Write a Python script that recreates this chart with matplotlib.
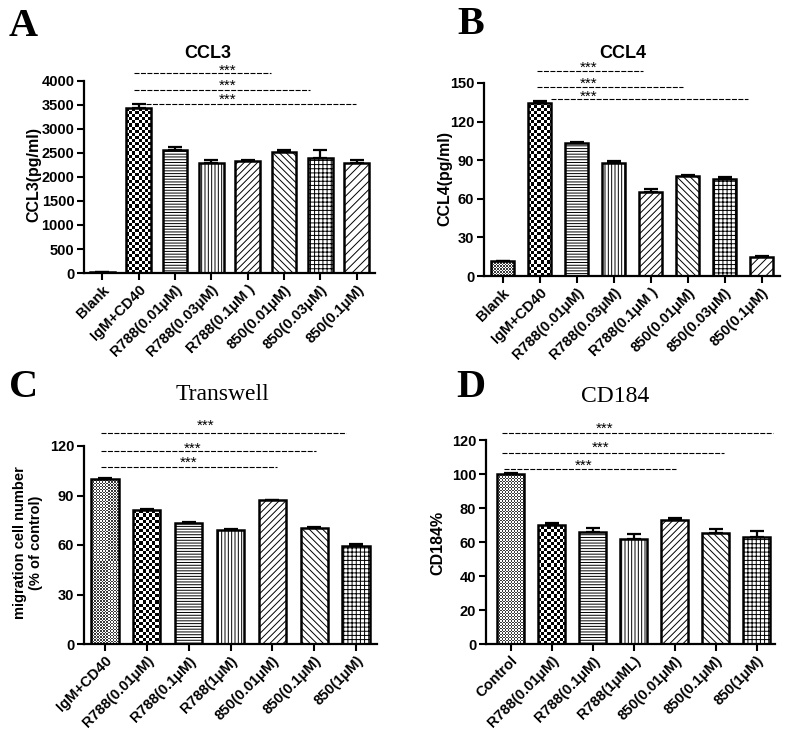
import matplotlib
matplotlib.use('Agg')
import matplotlib.pyplot as plt
import matplotlib.transforms as mtransforms
from matplotlib.colors import ListedColormap
import numpy as np

plt.rcParams['font.family'] = ['Liberation Sans', 'DejaVu Sans']
plt.rcParams['hatch.linewidth'] = 0.7

# ── data ──
a_labels = ['Blank', 'IgM+CD40', 'R788(0.01μM)', 'R788(0.03μM)', 'R788(0.1μM )',
            '850(0.01μM)', '850(0.03μM)', '850(0.1μM)']
a_vals = [20, 3440, 2560, 2300, 2340, 2530, 2400, 2300]
a_err = [10, 80, 60, 50, 20, 40, 160, 60]

b_labels = ['Blank', 'IgM+CD40', 'R788(0.01μM)', 'R788(0.03μM)', 'R788(0.1μM )',
            '850(0.01μM)', '850(0.03μM)', '850(0.1μM)']
b_vals = [11.5, 134.5, 103, 87.5, 65.5, 78, 75.5, 15]
b_err = [0.5, 1.5, 1.2, 1.5, 1.8, 0.3, 1.2, 0.5]

c_labels = ['IgM+CD40', 'R788(0.01μM)', 'R788(0.1μM)', 'R788(1μM)',
            '850(0.01μM)', '850(0.1μM)', '850(1μM)']
c_vals = [100, 81, 73.5, 69, 87, 70.5, 59.5]
c_err = [0.4, 0.6, 0.5, 0.6, 0.5, 0.3, 0.9]

d_labels = ['Control', 'R788(0.01μM)', 'R788(0.1μM)', 'R788(1μML)',
            '850(0.01μM)', '850(0.1μM)', '850(1μM)']
d_vals = [100, 70, 66, 62, 73, 65.5, 63]
d_err = [0.6, 1.2, 2.0, 3.0, 1.3, 2.0, 3.5]

# significance brackets: start x, end x, y   /  star x, star y (glyph centre)
a_sig = dict(x0=[0.88, 0.88, 1.2], x1=[4.65, 5.7, 6.97], y=[4166, 3812, 3520],
             sx=[3.44, 3.44, 3.44], sy=[4260, 3960, 3650])
b_sig = dict(x0=[0.94, 0.94, 1.3], x1=[3.8, 4.88, 6.63], y=[159, 147, 137.5],
             sx=[2.32, 2.32, 2.32], sy=[163.5, 151.5, 141.5])
c_sig = dict(x0=[-0.1, -0.1, -0.1], x1=[5.76, 5.05, 4.1], y=[128, 117, 107.3],
             sx=[2.4, 2.1, 2.0], sy=[134, 120, 111.5])
d_sig = dict(x0=[-0.2, -0.2, -0.15], x1=[6.4, 5.2, 4.03], y=[124, 112.4, 103],
             sx=[2.3, 2.2, 1.77], sy=[128, 117, 106.5])

# fill styles: 'dots' fine stipple, 'chk' checkerboard, else hatch string
ab_fill = ['dots', 'chk', '------', '|||||', '/////', '\\\\\\\\\\', '++++', '////']
cd_fill = ['dots', 'chk', '------', '|||||', '/////', '\\\\\\\\\\', '++++']


def pattern_fill(ax, bar, cell, dark):
    bb = ax.get_window_extent()
    x0, x1 = ax.get_xlim()
    y0, y1 = ax.get_ylim()
    ppx = bb.width / (x1 - x0)
    ppy = bb.height / (y1 - y0)
    xl, w, h = bar.get_x(), bar.get_width(), bar.get_height()
    nx = max(1, int(np.ceil(w * ppx / cell)))
    ny = max(1, int(np.ceil(h * ppy / cell)))
    pat = np.add.outer(np.arange(ny), np.arange(nx)) % 2
    im = ax.imshow(pat, extent=[xl, xl + nx * cell / ppx, 0, ny * cell / ppy],
                   cmap=ListedColormap([dark, 'white']), vmin=0, vmax=1,
                   interpolation='nearest', aspect='auto', origin='lower', zorder=1.5)
    im.set_clip_path(bar)


def panel(pos, labels, vals, errs, fills, yticks, xlim, width, sig):
    ax = fig.add_axes(pos)
    x = np.arange(len(vals))
    ax.set_xlim(*xlim)
    ax.set_ylim(yticks[0], yticks[-1])
    bars = ax.bar(x, vals, width=width, color='white', edgecolor='black',
                  linewidth=1.8, zorder=2)
    for b, f in zip(bars, fills):
        if f == 'chk':
            b.set_facecolor('none')
            b.set_zorder(3)
            pattern_fill(ax, b, 3.1, 'black')
        elif f == 'dots':
            b.set_facecolor('none')
            b.set_zorder(3)
            pattern_fill(ax, b, 1.5, '#3a3a3a')
        else:
            b.set_hatch(f)
    ax.errorbar(x, vals, yerr=[np.zeros(len(errs)), errs], fmt='none', ecolor='black',
                elinewidth=1.6, capsize=5, capthick=1.6, zorder=1)
    ax.set_xlim(*xlim)
    ax.set_ylim(yticks[0], yticks[-1])
    ax.set_yticks(yticks)
    ax.set_xticks(x)
    ax.set_xticklabels(labels, rotation=45, ha='right', rotation_mode='anchor',
                       fontsize=10.5, fontweight='bold')
    for t in ax.get_yticklabels():
        t.set_fontsize(10.5)
        t.set_fontweight('bold')
    for s in ['top', 'right']:
        ax.spines[s].set_visible(False)
    for s in ['left', 'bottom']:
        ax.spines[s].set_linewidth(1.6)
    ax.tick_params(width=1.5, length=5, pad=2)
    fs = 11
    star_tr = mtransforms.offset_copy(ax.transData, fig=fig, y=-0.42 * fs, units='points')
    for x0, x1, yy, sx, sy in zip(sig['x0'], sig['x1'], sig['y'], sig['sx'], sig['sy']):
        ax.plot([x0, x1], [yy, yy], color='black', lw=0.8, ls=(0, (4.5, 1.3)),
                clip_on=False)
        ax.text(sx, sy, '***', ha='center', va='baseline', fontsize=fs,
                transform=star_tr, clip_on=False)
    return ax


fig = plt.figure(figsize=(8, 7.43), dpi=100)
W, H = 800, 743

panel([84 / W, 1 - 273 / H, 291 / W, 192 / H], a_labels, a_vals, a_err, ab_fill,
      np.arange(0, 4001, 500), (-0.5, 7.5), 0.68, a_sig)
panel([484 / W, 1 - 276 / H, 296 / W, 193 / H], b_labels, b_vals, b_err, ab_fill,
      np.arange(0, 151, 30), (-0.5, 7.5), 0.64, b_sig)
panel([84 / W, 1 - 644 / H, 293 / W, 198 / H], c_labels, c_vals, c_err, cd_fill,
      np.arange(0, 121, 30), (-0.5, 6.5), 0.65, c_sig)
panel([486 / W, 1 - 644 / H, 289 / W, 204 / H], d_labels, d_vals, d_err, cd_fill,
      np.arange(0, 121, 20), (-0.6, 6.45), 0.65, d_sig)

serif = ['Liberation Serif', 'DejaVu Serif']
for txt, px, py in [('A', 9, 8), ('B', 457, 6), ('C', 9, 369), ('D', 456, 369)]:
    fig.text(px / W, 1 - py / H, txt, ha='left', va='top', fontsize=29,
             fontweight='bold', family=serif)

fig.text(208 / W, 1 - 53 / H, 'CCL3', ha='center', va='center', fontsize=13,
         fontweight='bold')
fig.text(623 / W, 1 - 53 / H, 'CCL4', ha='center', va='center', fontsize=13,
         fontweight='bold')
fig.text(222 / W, 1 - 395 / H, 'Transwell', ha='center', va='center', fontsize=17,
         family=serif)
fig.text(615 / W, 1 - 397 / H, 'CD184', ha='center', va='center', fontsize=17,
         family=serif)

fig.text(34 / W, 1 - 175 / H, 'CCL3(pg/ml)', rotation=90, ha='center', va='center',
         fontsize=11.5, fontweight='bold')
fig.text(445 / W, 1 - 178 / H, 'CCL4(pg/ml)', rotation=90, ha='center', va='center',
         fontsize=11.5, fontweight='bold')
fig.text(28 / W, 1 - 543 / H, 'migration cell number\n(% of control)', rotation=90,
         ha='center', va='center', fontsize=10.5, fontweight='bold', linespacing=1.1)
fig.text(438 / W, 1 - 543 / H, 'CD184%', rotation=90, ha='center', va='center',
         fontsize=11.5, fontweight='bold')

fig.savefig('out.png', dpi=100, facecolor='white')
